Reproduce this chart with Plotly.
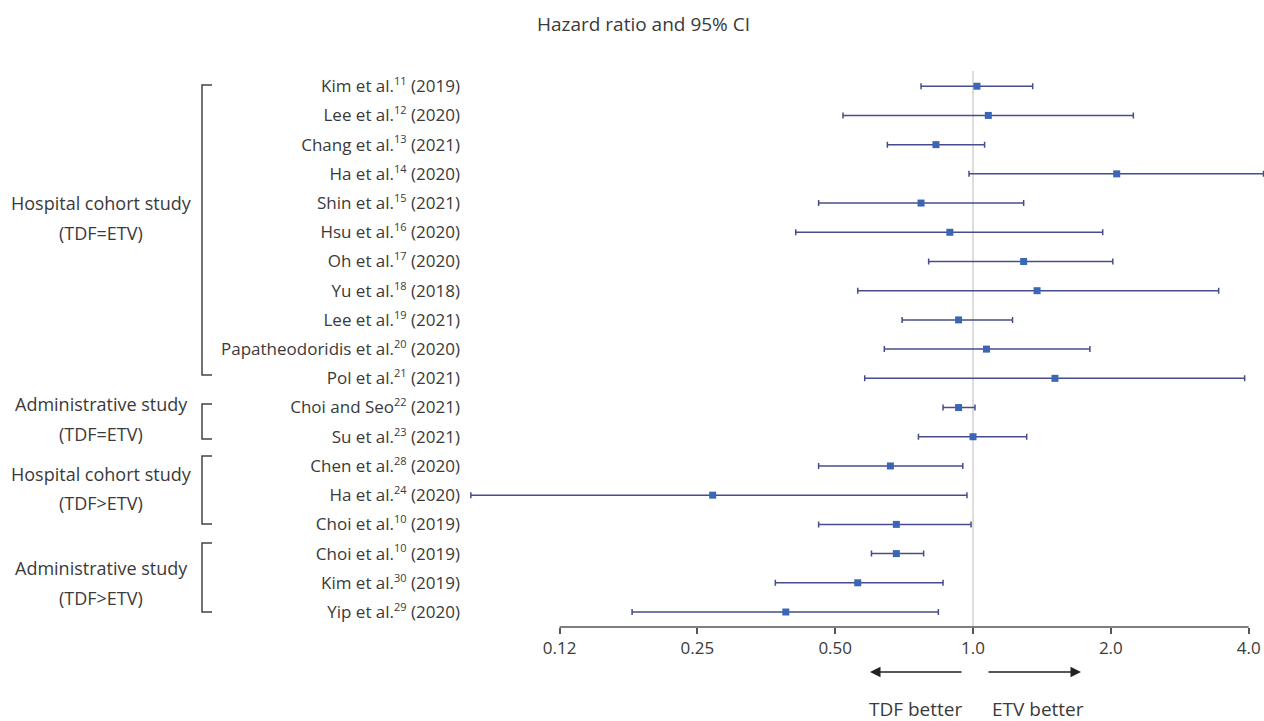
import numpy as np
import plotly.graph_objects as go

study_names = [
    "Kim et al.", "Lee et al.", "Chang et al.", "Ha et al.", "Shin et al.",
    "Hsu et al.", "Oh et al.", "Yu et al.", "Lee et al.",
    "Papatheodoridis et al.", "Pol et al.", "Choi and Seo", "Su et al.",
    "Chen et al.", "Ha et al.", "Choi et al.", "Choi et al.", "Kim et al.",
    "Yip et al.",
]
study_refs = ["11", "12", "13", "14", "15", "16", "17", "18", "19", "20", "21",
              "22", "23", "28", "24", "10", "10", "30", "29"]
study_years = ["2019", "2020", "2021", "2020", "2021", "2020", "2020", "2018",
               "2021", "2020", "2021", "2021", "2021", "2020", "2020", "2019",
               "2019", "2019", "2020"]
hr = [1.02, 1.08, 0.83, 2.06, 0.77, 0.89, 1.29, 1.38, 0.93, 1.07, 1.51,
      0.93, 1.00, 0.66, 0.27, 0.68, 0.68, 0.56, 0.39]
ci_low = [0.77, 0.52, 0.65, 0.98, 0.46, 0.41, 0.80, 0.56, 0.70, 0.64, 0.58,
          0.86, 0.76, 0.46, 0.08, 0.46, 0.60, 0.37, 0.18]
ci_high = [1.35, 2.24, 1.06, 4.31, 1.29, 1.92, 2.02, 3.44, 1.22, 1.80, 3.92,
           1.01, 1.31, 0.95, 0.97, 0.99, 0.78, 0.86, 0.84]

tick_vals = [0.125, 0.25, 0.5, 1.0, 2.0, 4.0]
tick_text = ["0.12", "0.25", "0.50", "1.0", "2.0", "4.0"]

groups = [
    ("Hospital cohort study", "(TDF=ETV)"),
    ("Administrative study", "(TDF=ETV)"),
    ("Hospital cohort study", "(TDF>ETV)"),
    ("Administrative study", "(TDF>ETV)"),
]

title = "Hazard ratio and 95% CI"
arrow_labels = ["TDF better", "ETV better"]

# ---------- layout geometry (screen pixels) ----------
W, H = 1264, 721
L = 466
T = 57
AXIS_Y = 627
B = H - AXIS_Y
R = 0
PW, PH = W - L - R, H - T - B


def px(x):
    return (x - L) / PW


def py(y):
    return (AXIS_Y - y) / PH


FONT = "Open Sans"
TXT = "#3a3a3a"

labels = [f"{n}<sup><span style='font-size:11px'>{r}</span></sup> ({y})"
          for n, r, y in zip(study_names, study_refs, study_years)]

hr_a = np.array(hr)
lo_a = np.array(ci_low)
hi_a = np.array(ci_high)
rows = list(range(len(labels)))

fig = go.Figure()

# reference line at HR = 1
fig.add_trace(go.Scatter(
    x=[1, 1], y=[-0.52, len(labels) - 0.49], mode="lines",
    line=dict(color="#d2d2d2", width=1.5), hoverinfo="skip", showlegend=False))

fig.add_trace(go.Scatter(
    x=hr_a, y=rows, mode="markers",
    marker=dict(symbol="square", size=7, color="#3b66b6"),
    error_x=dict(type="data", symmetric=False,
                 array=hi_a - hr_a, arrayminus=hr_a - lo_a,
                 color="#474d8c", thickness=1.5, width=3),
    showlegend=False))

shapes = []
# bottom axis line from 0.125 to 4
shapes.append(dict(type="line", xref="x", yref="paper",
                   x0=0.125, x1=4.0, y0=0, y1=0,
                   line=dict(color="#555555", width=1.5)))

# group brackets (screen pixel positions)
brackets = [(85, 375), (404, 439), (456, 524), (543, 612)]
bx, bx2 = 202, 212
for top, bot in brackets:
    shapes.append(dict(type="path", xref="paper", yref="paper",
                       path=f"M {px(bx2)},{py(top)} L {px(bx)},{py(top)} L {px(bx)},{py(bot)} L {px(bx2)},{py(bot)}",
                       line=dict(color="#444444", width=1.5)))

annotations = []
group_y = [(203, 233), (404, 434), (474, 503), (568, 598)]
for (a, b), (ya, yb) in zip(groups, group_y):
    annotations.append(dict(xref="paper", yref="paper", x=px(101), y=py(ya),
                            text=a, showarrow=False, xanchor="center", yanchor="middle",
                            font=dict(family=FONT, size=18, color=TXT)))
    annotations.append(dict(xref="paper", yref="paper", x=px(101), y=py(yb),
                            text=b, showarrow=False, xanchor="center", yanchor="middle",
                            font=dict(family=FONT, size=18, color=TXT)))

annotations.append(dict(xref="paper", yref="paper", x=px(643), y=py(24),
                        text=title, showarrow=False, xanchor="center", yanchor="middle",
                        font=dict(family=FONT, size=19, color=TXT)))

# direction arrows
annotations.append(dict(xref="paper", yref="paper", x=px(870), y=py(672),
                        ax=93, ay=0, text="", showarrow=True, arrowhead=2,
                        arrowsize=1.4, arrowwidth=1.5, arrowcolor="#222222"))
annotations.append(dict(xref="paper", yref="paper", x=px(1081), y=py(672),
                        ax=-94, ay=0, text="", showarrow=True, arrowhead=2,
                        arrowsize=1.4, arrowwidth=1.5, arrowcolor="#222222"))
annotations.append(dict(xref="paper", yref="paper", x=px(916), y=py(709),
                        text=arrow_labels[0], showarrow=False, xanchor="center", yanchor="middle",
                        font=dict(family=FONT, size=19, color=TXT)))
annotations.append(dict(xref="paper", yref="paper", x=px(1038), y=py(709),
                        text=arrow_labels[1], showarrow=False, xanchor="center", yanchor="middle",
                        font=dict(family=FONT, size=19, color=TXT)))

fig.update_layout(
    width=W, height=H, autosize=False,
    margin=dict(l=L, r=R, t=T, b=B, pad=0),
    paper_bgcolor="white", plot_bgcolor="white",
    font=dict(family=FONT, size=16, color=TXT),
    shapes=shapes, annotations=annotations,
    xaxis=dict(type="log", range=[-1.1075, 0.6356],
               tickvals=tick_vals, ticktext=tick_text,
               ticks="outside", ticklen=6, tickwidth=1.5, tickcolor="#555555",
               showgrid=False, zeroline=False, showline=False,
               tickfont=dict(family=FONT, size=17, color=TXT)),
    yaxis=dict(range=[len(labels) - 0.487, -1.0],
               tickvals=rows, ticktext=labels, ticks="",
               ticklabelstandoff=5,
               showgrid=False, zeroline=False, showline=False,
               tickfont=dict(family=FONT, size=17, color=TXT)),
)

fig.write_html(
    "out.html",
    config={"displayModeBar": False},
    post_script="document.body.style.margin='0';document.body.style.overflow='hidden';",
)
